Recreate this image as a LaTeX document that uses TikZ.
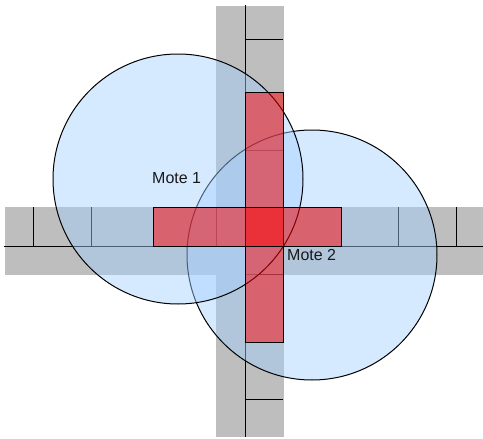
\documentclass[tikz,border=0pt]{standalone}
\usepackage{fontspec}
\setmainfont{Liberation Sans}
\definecolor{roadgray}{RGB}{190,190,190}
\definecolor{moteblue}{RGB}{165,208,255}
\tikzset{
  roadband/.style={fill=roadgray,draw=none},
  wallline/.style={draw=black,line width=1pt},
  moterange/.style={draw=black,line width=1pt,fill=moteblue,fill opacity=0.45},
  hotcells/.style={draw=black,line width=1pt,fill=red,fill opacity=0.5},
  motelabel/.style={font=\fontsize{16}{18}\selectfont,text=black!90,inner sep=0pt,anchor=west}
}
\begin{document}
\begin{tikzpicture}[x=1pt,y=-1pt]
\useasboundingbox (0,0) rectangle (483,439);
% roads
\fill[roadband] (5,207) rectangle (483,275);
\fill[roadband] (216,6) rectangle (284,437);
% centre lines and cell dividers
\draw[wallline] (4,246) -- (483,246);
\draw[wallline] (245,5) -- (245,437);
\foreach \x in {33,91,216,398,456} \draw[wallline] (\x,207) -- (\x,246);
\foreach \y in {39,150,274,399} \draw[wallline] (245,\y) -- (283,\y);
% radio ranges
\draw[moterange] (312,255) circle[radius=125];
\draw[moterange] (178,179) circle[radius=125];
% occupied cells
\draw[hotcells] (245,92) rectangle (283,342);
\draw[hotcells] (153,207) rectangle (341,246);
% labels
\node[motelabel] (mote1) at (152,178) {Mote 1};
\node[motelabel] (mote2) at (287,255) {Mote 2};
\end{tikzpicture}
\end{document}
